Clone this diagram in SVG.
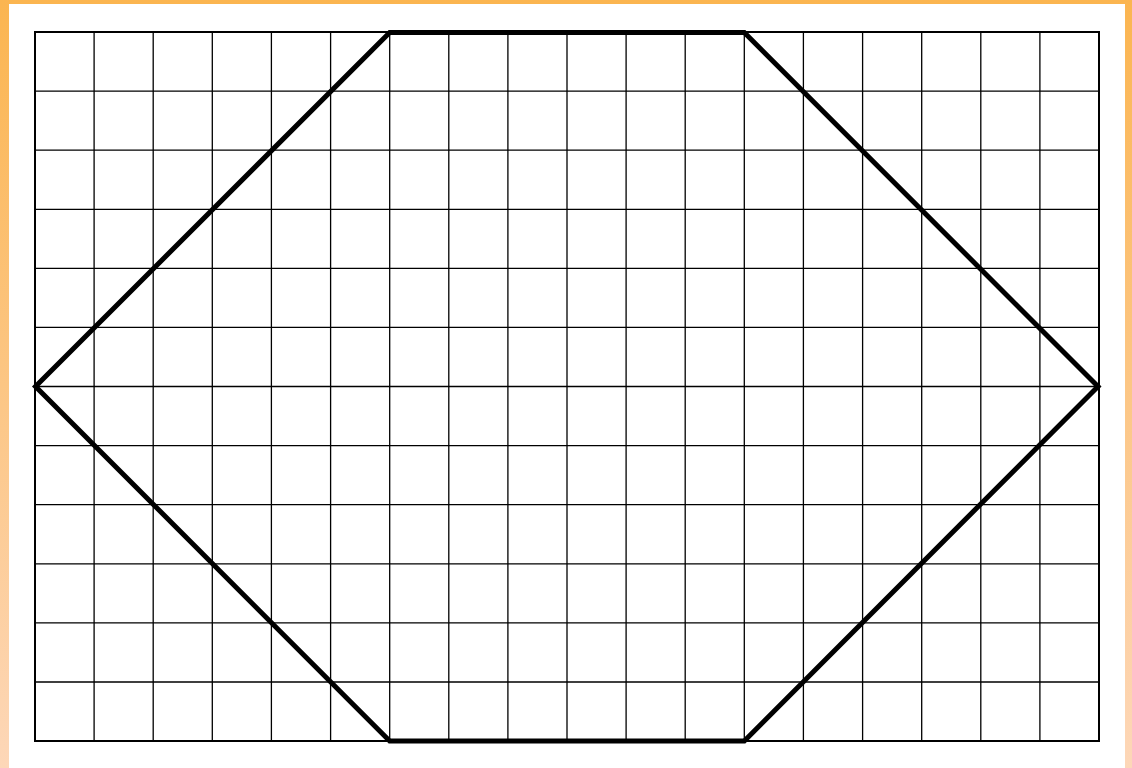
<svg xmlns="http://www.w3.org/2000/svg" width="1132" height="768" viewBox="0 0 1132 768">
<defs>
<linearGradient id="bg" x1="0" y1="0" x2="0" y2="1">
<stop offset="0" stop-color="#FBB550"/>
<stop offset="1" stop-color="#FDD7B8"/>
</linearGradient>
<style>
.g{stroke:#000;stroke-width:1.3;fill:none}
.o{stroke:#000;stroke-width:2;fill:none}
.h{stroke:#000;stroke-width:5;fill:none;stroke-linejoin:miter}
</style>
</defs>
<rect x="0" y="0" width="1132" height="768" fill="url(#bg)"/>
<rect x="9" y="4" width="1116" height="764" fill="#fff"/>
<g id="grid">
<path class="g" d="M94.1 32V741M153.2 32V741M212.3 32V741M271.4 32V741M330.6 32V741M389.7 32V741M448.8 32V741M507.9 32V741M567 32V741M626.1 32V741M685.2 32V741M744.3 32V741M803.4 32V741M862.6 32V741M921.7 32V741M980.8 32V741M1039.9 32V741"/>
<path class="g" d="M35 91.1H1099M35 150.2H1099M35 209.3H1099M35 268.3H1099M35 327.4H1099M35 386.5H1099M35 445.6H1099M35 504.7H1099M35 563.8H1099M35 622.9H1099M35 682H1099"/>
<rect class="o" x="35" y="32" width="1064" height="709"/>
</g>
<g id="hexagon">
<polygon class="h" points="389.7,32.5 744.3,32.5 1098,386.5 744.3,741 389.7,741 35.5,386.5"/>
</g>
</svg>
